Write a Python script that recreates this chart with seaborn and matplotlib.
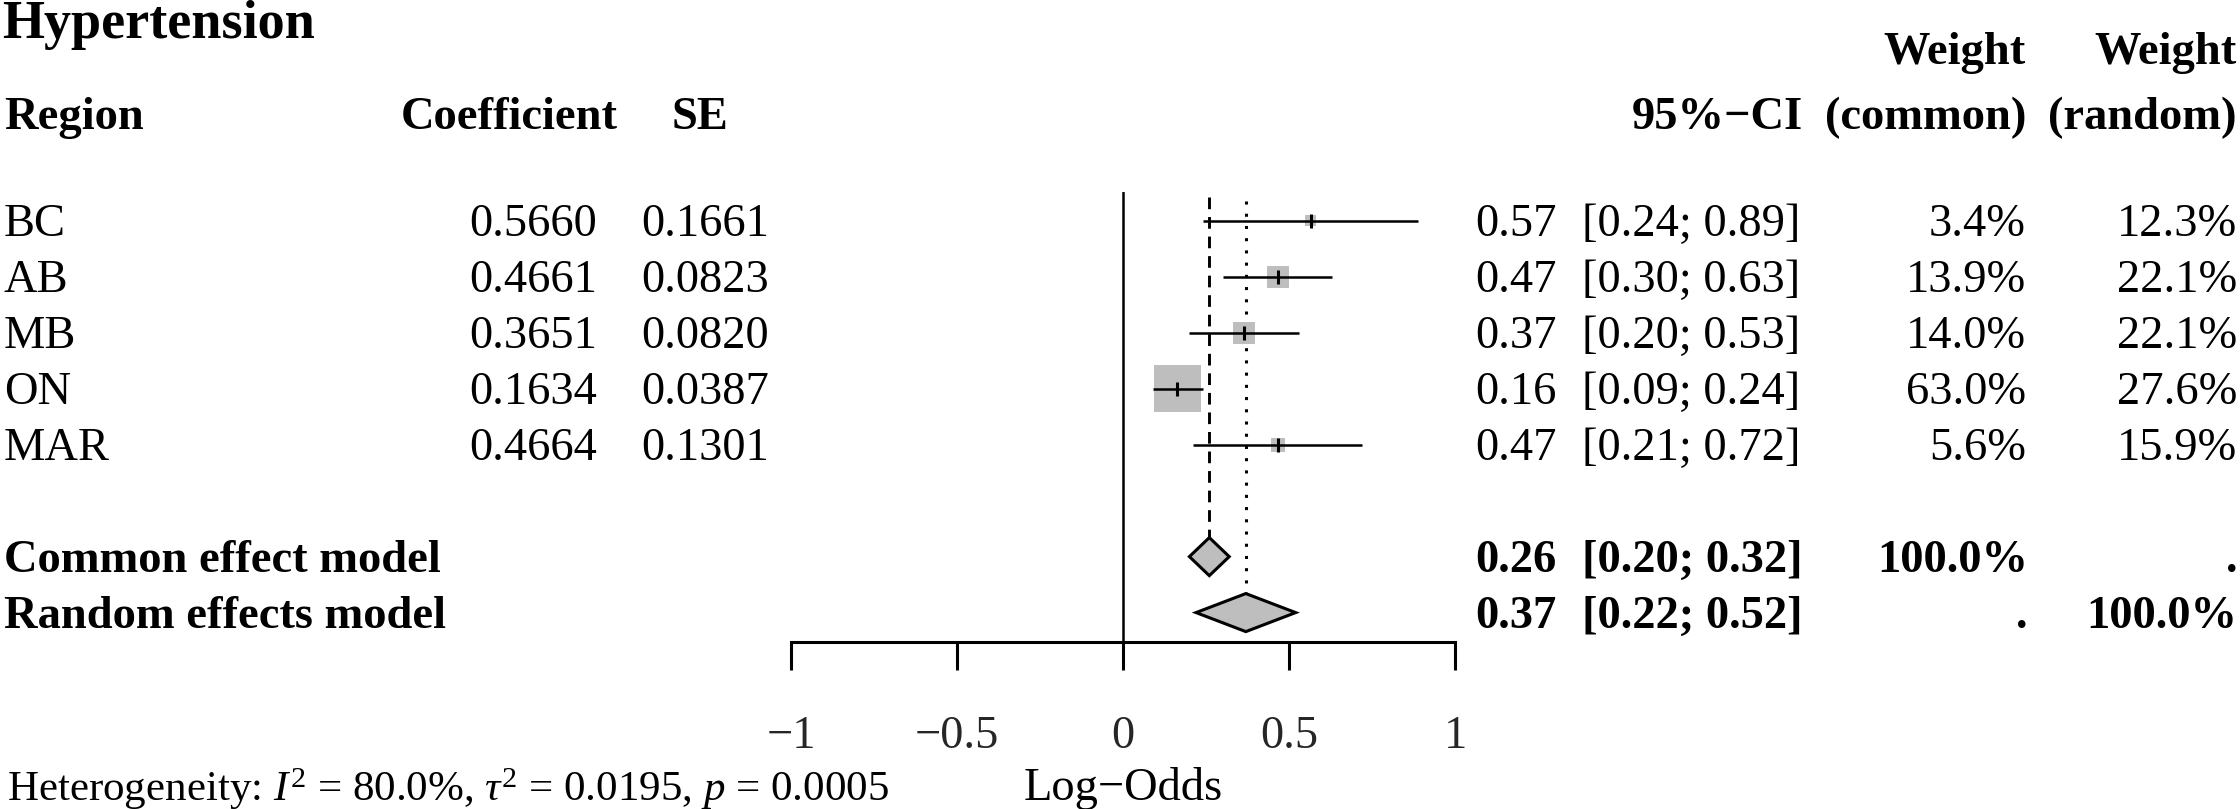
import numpy as np
import pandas as pd
import matplotlib
matplotlib.use('Agg')
import matplotlib.pyplot as plt
import matplotlib.transforms as mtransforms
from matplotlib.patches import Polygon
import seaborn as sns

# study rows
regions = ['BC', 'AB', 'MB', 'ON', 'MAR']
coef = [0.5660, 0.4661, 0.3651, 0.1634, 0.4664]
se = [0.1661, 0.0823, 0.0820, 0.0387, 0.1301]
ci_low = [0.24, 0.30, 0.20, 0.09, 0.21]
ci_high = [0.89, 0.63, 0.53, 0.24, 0.72]
w_common = [3.4, 13.9, 14.0, 63.0, 5.6]
w_random = [12.3, 22.1, 22.1, 27.6, 15.9]

# pooled rows
models = ['Common effect model', 'Random effects model']
model_est = [0.26, 0.37]
model_low = [0.20, 0.22]
model_high = [0.32, 0.52]
model_w_common = ['100.0%', '.']
model_w_random = ['.', '100.0%']

xticks = [-1, -0.5, 0, 0.5, 1]
xticklabels = ['\u22121', '\u22120.5', '0', '0.5', '1']
title = 'Hypertension'
xlabel = 'Log\u2212Odds'
heterogeneity = r'Heterogeneity: $I^2$ = 80.0%, $\tau^2$ = 0.0195, $p$ = 0.0005'

sns.set_theme(style='white')
plt.rcParams['font.family'] = ['Liberation Serif', 'DejaVu Serif']
plt.rcParams['mathtext.fontset'] = 'custom'
plt.rcParams['mathtext.rm'] = 'Liberation Serif'
plt.rcParams['mathtext.it'] = 'Liberation Serif:italic'
plt.rcParams['mathtext.bf'] = 'Liberation Serif:bold'

FS = 33.5
GREY = '#BEBEBE'
W, H = 2240, 809
DY = 0.07  # va='center' sits a little high for serif text

fig = plt.figure(figsize=(22.4, 8.09), dpi=100)
ax = fig.add_axes([791 / W, 1 - 641.7 / H, (1455 - 791) / W, (641.7 - 191.7) / H])
ax.set_xlim(-1, 1)
ax.set_ylim(8.52, 0.48)
ax.patch.set_alpha(0)

rows = np.arange(1, len(regions) + 1)
model_rows = [len(regions) + 2, len(regions) + 3]

df = pd.DataFrame({'region': regions, 'coef': coef, 'row': rows, 'w': w_common})

# reference lines
ax.axvline(0, color='black', lw=1.8, zorder=1)
ax.plot([model_est[0]] * 2, [0.57, model_rows[0] - 0.34], color='black',
        lw=2.1, ls=(0, (4, 2.7)), zorder=1)
ax.plot([model_est[1]] * 2, [0.65, model_rows[1] - 0.34], color='black',
        lw=2.2, ls=(0, (1, 3)), zorder=1)

# weight boxes (area proportional to common-effect weight)
sns.scatterplot(data=df, x='coef', y='row', size='w', sizes=(0, 1145),
                size_norm=(0, 63), marker='s', color=GREY, edgecolor='none',
                linewidth=0, legend=False, ax=ax, zorder=2)
ax.hlines(rows, ci_low, ci_high, color='black', lw=1.8, zorder=3)
ax.scatter(coef, rows, marker='|', s=100, color='black', linewidths=2.2, zorder=4)

# diamonds
for r, e, lo, hi in zip(model_rows, model_est, model_low, model_high):
    ax.add_patch(Polygon([[lo, r], [e, r - 0.34], [hi, r], [e, r + 0.34]],
                         closed=True, fc=GREY, ec='black', lw=2.2, zorder=3))

ax.set_xlabel('')
ax.set_ylabel('')
ax.set_yticks([])
ax.set_xticks(xticks)
ax.set_xticklabels(xticklabels, fontsize=FS)
ax.tick_params(axis='x', direction='out', length=20, width=2.2, color='black',
               pad=33, bottom=True)
for s in ['top', 'right', 'left']:
    ax.spines[s].set_visible(False)
ax.spines['bottom'].set_color('black')
ax.spines['bottom'].set_linewidth(2.2)

# text columns
tr = mtransforms.blended_transform_factory(fig.transFigure, ax.transData)
def put(px, y, s, ha='left', bold=False, size=FS):
    fig.text(px / W, y, s, transform=tr, ha=ha, va='center', fontsize=size,
             fontweight='bold' if bold else 'normal', color='black')

put(2, -2.49, title, bold=True, size=39)
put(4, -0.834, 'Region', bold=True)
put(618, -0.834, 'Coefficient', ha='right', bold=True)
put(672, -0.834, 'SE', bold=True)
put(1803, -0.834, '95%\u2212CI', ha='right', bold=True)
put(2026, -1.995, 'Weight', ha='right', bold=True)
put(2026, -0.834, '(common)', ha='right', bold=True)
put(2237, -1.995, 'Weight', ha='right', bold=True)
put(2237, -0.834, '(random)', ha='right', bold=True)

for i, r in enumerate(rows):
    y = r + DY
    put(4, y, regions[i])
    put(597, y, f'{coef[i]:.4f}', ha='right')
    put(769, y, f'{se[i]:.4f}', ha='right')
    put(1475, y, f'{coef[i]:.2f}')
    put(1800, y, f'[{ci_low[i]:.2f}; {ci_high[i]:.2f}]', ha='right')
    put(2026, y, f'{w_common[i]:.1f}%', ha='right')
    put(2237, y, f'{w_random[i]:.1f}%', ha='right')

for i, r in enumerate(model_rows):
    y = r + DY
    put(4, y, models[i], bold=True)
    put(1475, y, f'{model_est[i]:.2f}', bold=True)
    put(1803, y, f'[{model_low[i]:.2f}; {model_high[i]:.2f}]', ha='right', bold=True)
    put(2028, y, model_w_common[i], ha='right', bold=True)
    put(2237, y, model_w_random[i], ha='right', bold=True)

put(7, 11.08 + DY, heterogeneity, size=31)
ax.text(0, 11.08 + DY, xlabel, ha='center', va='center', fontsize=FS, color='black')

fig.savefig('out.png', dpi=100)
